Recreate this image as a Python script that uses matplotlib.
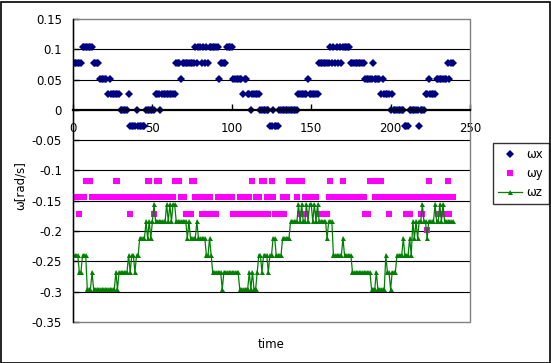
import numpy as np
import matplotlib.pyplot as plt
from matplotlib.patches import Rectangle

# angular velocity samples (rad/s), one per time step
wx = [
    0.077, 0.077, 0.077, 0.077, 0.077, 0.077, 0.103, 0.103, 0.103, 0.103,
    0.103, 0.103, 0.103, 0.077, 0.077, 0.077, 0.077, 0.051, 0.051, 0.051,
    0.051, 0.051, 0.026, 0.051, 0.026, 0.026, 0.026, 0.026, 0.026, 0.026,
    0.0, 0.0, 0.0, 0.0, 0.0, 0.026, -0.026, -0.026, -0.026, -0.026,
    0.0, -0.026, -0.026, -0.026, -0.026, -0.026, 0.0, 0.0, 0.0, 0.0,
    0.0, 0.0, 0.026, 0.026, 0.026, 0.0, 0.026, 0.026, 0.026, 0.026,
    0.026, 0.026, 0.026, 0.026, 0.026, 0.077, 0.077, 0.077, 0.051, 0.077,
    0.077, 0.077, 0.077, 0.077, 0.077, 0.077, 0.077, 0.103, 0.077, 0.103,
    0.103, 0.077, 0.103, 0.077, 0.103, 0.077, 0.103, 0.103, 0.103, 0.103,
    0.103, 0.103, 0.051, 0.077, 0.077, 0.077, 0.077, 0.103, 0.103, 0.103,
    0.103, 0.051, 0.051, 0.051, 0.051, 0.051, 0.051, 0.026, 0.051, 0.051,
    0.026, 0.026, 0.0, 0.026, 0.026, 0.026, 0.026, 0.026, 0.0, 0.0,
    0.0, 0.0, 0.0, 0.0, -0.026, -0.026, 0.0, -0.026, -0.026, -0.026,
    0.0, 0.0, 0.0, 0.0, 0.0, 0.0, 0.0, 0.0, 0.0, 0.0,
    0.0, 0.0, 0.026, 0.026, 0.026, 0.026, 0.026, 0.026, 0.051, 0.026,
    0.026, 0.026, 0.026, 0.026, 0.026, 0.077, 0.077, 0.077, 0.077, 0.077,
    0.077, 0.077, 0.103, 0.077, 0.103, 0.077, 0.103, 0.077, 0.103, 0.077,
    0.103, 0.103, 0.103, 0.103, 0.103, 0.077, 0.077, 0.077, 0.077, 0.077,
    0.077, 0.077, 0.077, 0.077, 0.051, 0.051, 0.051, 0.051, 0.051, 0.077,
    0.051, 0.051, 0.051, 0.051, 0.026, 0.051, 0.026, 0.026, 0.026, 0.026,
    0.0, 0.026, 0.0, 0.0, 0.0, 0.0, 0.0, 0.0, 0.0, -0.026,
    -0.026, -0.026, 0.0, 0.0, 0.0, 0.0, 0.0, 0.0, -0.026, 0.0,
    0.0, 0.0, 0.026, 0.026, 0.051, 0.026, 0.026, 0.026, 0.026, 0.051,
    0.051, 0.051, 0.051, 0.051, 0.051, 0.051, 0.077, 0.051, 0.077, 0.077,
]

wy = [
    -0.144, -0.144, -0.144, -0.144, -0.171, -0.144, -0.144, -0.144, -0.117, -0.117,
    -0.117, -0.117, -0.144, -0.144, -0.144, -0.144, -0.144, -0.144, -0.144, -0.144,
    -0.144, -0.144, -0.144, -0.144, -0.144, -0.144, -0.144, -0.117, -0.117, -0.144,
    -0.144, -0.144, -0.144, -0.144, -0.144, -0.144, -0.171, -0.144, -0.144, -0.144,
    -0.144, -0.144, -0.144, -0.144, -0.144, -0.144, -0.144, -0.117, -0.117, -0.144,
    -0.144, -0.171, -0.144, -0.117, -0.117, -0.144, -0.144, -0.144, -0.144, -0.144,
    -0.144, -0.144, -0.144, -0.144, -0.117, -0.117, -0.117, -0.117, -0.144, -0.144,
    -0.144, -0.171, -0.171, -0.171, -0.171, -0.117, -0.117, -0.144, -0.144, -0.144,
    -0.144, -0.171, -0.144, -0.171, -0.171, -0.144, -0.144, -0.171, -0.171, -0.171,
    -0.171, -0.144, -0.144, -0.144, -0.144, -0.144, -0.144, -0.144, -0.144, -0.144,
    -0.144, -0.171, -0.171, -0.171, -0.171, -0.144, -0.171, -0.144, -0.171, -0.144,
    -0.171, -0.144, -0.171, -0.117, -0.171, -0.144, -0.171, -0.144, -0.171, -0.117,
    -0.117, -0.171, -0.144, -0.171, -0.144, -0.117, -0.144, -0.171, -0.171, -0.171,
    -0.171, -0.171, -0.144, -0.171, -0.144, -0.144, -0.117, -0.117, -0.117, -0.117,
    -0.117, -0.144, -0.117, -0.171, -0.117, -0.171, -0.144, -0.171, -0.144, -0.144,
    -0.144, -0.144, -0.144, -0.144, -0.171, -0.171, -0.171, -0.171, -0.171, -0.171,
    -0.171, -0.144, -0.117, -0.144, -0.144, -0.144, -0.144, -0.144, -0.144, -0.144,
    -0.117, -0.144, -0.144, -0.144, -0.144, -0.144, -0.144, -0.144, -0.144, -0.144,
    -0.144, -0.144, -0.144, -0.144, -0.171, -0.171, -0.171, -0.117, -0.117, -0.117,
    -0.144, -0.144, -0.144, -0.117, -0.117, -0.144, -0.144, -0.144, -0.144, -0.171,
    -0.144, -0.144, -0.144, -0.144, -0.144, -0.144, -0.144, -0.144, -0.144, -0.144,
    -0.171, -0.144, -0.171, -0.144, -0.144, -0.144, -0.144, -0.144, -0.144, -0.171,
    -0.171, -0.144, -0.144, -0.199, -0.117, -0.144, -0.144, -0.144, -0.144, -0.144,
    -0.171, -0.144, -0.171, -0.171, -0.144, -0.144, -0.117, -0.171, -0.144, -0.144,
]

wz = [
    -0.240, -0.240, -0.240, -0.240, -0.268, -0.268, -0.240, -0.240, -0.240, -0.296,
    -0.296, -0.296, -0.268, -0.296, -0.296, -0.296, -0.296, -0.296, -0.296, -0.296,
    -0.296, -0.296, -0.296, -0.296, -0.296, -0.296, -0.296, -0.268, -0.296, -0.268,
    -0.268, -0.268, -0.268, -0.268, -0.268, -0.240, -0.268, -0.240, -0.240, -0.268,
    -0.240, -0.240, -0.212, -0.212, -0.212, -0.212, -0.184, -0.212, -0.184, -0.212,
    -0.184, -0.156, -0.184, -0.184, -0.184, -0.184, -0.184, -0.184, -0.184, -0.156,
    -0.184, -0.156, -0.184, -0.156, -0.156, -0.184, -0.184, -0.184, -0.184, -0.184,
    -0.184, -0.184, -0.212, -0.184, -0.212, -0.212, -0.212, -0.212, -0.184, -0.212,
    -0.212, -0.212, -0.212, -0.212, -0.240, -0.240, -0.212, -0.240, -0.268, -0.268,
    -0.268, -0.268, -0.268, -0.268, -0.296, -0.268, -0.268, -0.268, -0.268, -0.268,
    -0.268, -0.268, -0.268, -0.268, -0.268, -0.296, -0.296, -0.296, -0.296, -0.296,
    -0.296, -0.268, -0.296, -0.268, -0.296, -0.296, -0.268, -0.240, -0.240, -0.268,
    -0.240, -0.240, -0.240, -0.268, -0.240, -0.240, -0.212, -0.212, -0.240, -0.240,
    -0.240, -0.240, -0.212, -0.212, -0.212, -0.212, -0.212, -0.184, -0.184, -0.184,
    -0.184, -0.184, -0.156, -0.184, -0.156, -0.184, -0.184, -0.156, -0.184, -0.156,
    -0.156, -0.184, -0.156, -0.184, -0.156, -0.184, -0.184, -0.184, -0.184, -0.184,
    -0.212, -0.184, -0.184, -0.184, -0.240, -0.240, -0.240, -0.240, -0.240, -0.240,
    -0.212, -0.240, -0.240, -0.240, -0.240, -0.240, -0.268, -0.268, -0.268, -0.268,
    -0.268, -0.268, -0.268, -0.268, -0.268, -0.268, -0.268, -0.268, -0.296, -0.296,
    -0.296, -0.268, -0.296, -0.296, -0.296, -0.296, -0.296, -0.240, -0.268, -0.268,
    -0.296, -0.268, -0.268, -0.268, -0.240, -0.240, -0.240, -0.240, -0.212, -0.240,
    -0.240, -0.240, -0.212, -0.240, -0.184, -0.212, -0.184, -0.212, -0.184, -0.184,
    -0.156, -0.184, -0.184, -0.212, -0.184, -0.184, -0.184, -0.184, -0.156, -0.184,
    -0.184, -0.156, -0.184, -0.156, -0.184, -0.184, -0.184, -0.184, -0.184, -0.184,
]

time = np.arange(len(wx))

x_ticks = [0, 50, 100, 150, 200, 250]
y_ticks = [0.15, 0.1, 0.05, 0, -0.05, -0.1, -0.15, -0.2, -0.25, -0.3, -0.35]
y_tick_labels = ["0.15", "0.1", "0.05", "0", "-0.05", "-0.1", "-0.15",
                 "-0.2", "-0.25", "-0.3", "-0.35"]

plt.rcParams['font.family'] = 'DejaVu Sans'
fs = 8.5

W, H = 551, 363
fig = plt.figure(figsize=(W / 100, H / 100), dpi=100)
ax = fig.add_axes([73 / W, 1 - 322 / H, (470 - 73) / W, (322 - 19) / H])

# horizontal gridlines (inner ones only, the frame covers top/bottom)
for yv in y_ticks[1:-1]:
    if yv != 0:
        ax.axhline(yv, color='black', lw=0.8, zorder=1)

ax.plot(time, wx, ls='none', marker='D', ms=3.7, mew=0, color='#000080',
        label='ωx', zorder=3)
ax.plot(time, wy, ls='none', marker='s', ms=3.8, mew=0, color='#FF00FF',
        label='ωy', zorder=3)
ax.plot(time, wz, ls='-', lw=0.9, marker='^', ms=3.6, mew=0, color='#008000',
        label='ωz', zorder=4)

ax.set_xlim(0, 250)
ax.set_ylim(-0.35, 0.15)

# plot area frame in grey, axes lines in black
for s in ['top', 'right']:
    ax.spines[s].set_visible(False)
ax.add_patch(Rectangle((0, 0), 1, 1, transform=ax.transAxes, fill=False,
                       edgecolor='#808080', lw=1.0, clip_on=False, zorder=2))
ax.spines['left'].set_color('black')
ax.spines['left'].set_linewidth(1.0)
ax.spines['left'].set_zorder(5)
ax.spines['bottom'].set_position(('data', 0))
ax.spines['bottom'].set_color('black')
ax.spines['bottom'].set_linewidth(1.6)
ax.spines['bottom'].set_zorder(5)

ax.set_xticks(x_ticks)
ax.set_xticklabels([str(v) for v in x_ticks])
ax.set_yticks(y_ticks)
ax.set_yticklabels(y_tick_labels)
ax.tick_params(axis='x', direction='in', length=4, width=1, pad=9,
               labelsize=fs, colors='black')
ax.tick_params(axis='y', direction='in', length=4, width=1, pad=8,
               labelsize=fs, colors='black')

fig.text(20 / W, 1 - 186 / H, 'ω[rad/s]', rotation=90, ha='center',
         va='center', fontsize=fs)
fig.text(271.5 / W, 1 - 344 / H, 'time', ha='center', va='center', fontsize=fs)

leg = fig.legend(loc='upper left', bbox_to_anchor=(493 / W, 1 - 143 / H),
                 frameon=True, fancybox=False, fontsize=fs, borderpad=0.45,
                 handlelength=2.0, handletextpad=0.4, labelspacing=0.5,
                 borderaxespad=0)
leg.get_frame().set_edgecolor('black')
leg.get_frame().set_linewidth(1.0)

# chart area border
fig.patches.append(Rectangle((0.5 / W, 0.5 / H), 549 / W, 361 / H,
                             transform=fig.transFigure, fill=False,
                             edgecolor='black', lw=1.2))

plt.savefig('out.png', dpi=100)
